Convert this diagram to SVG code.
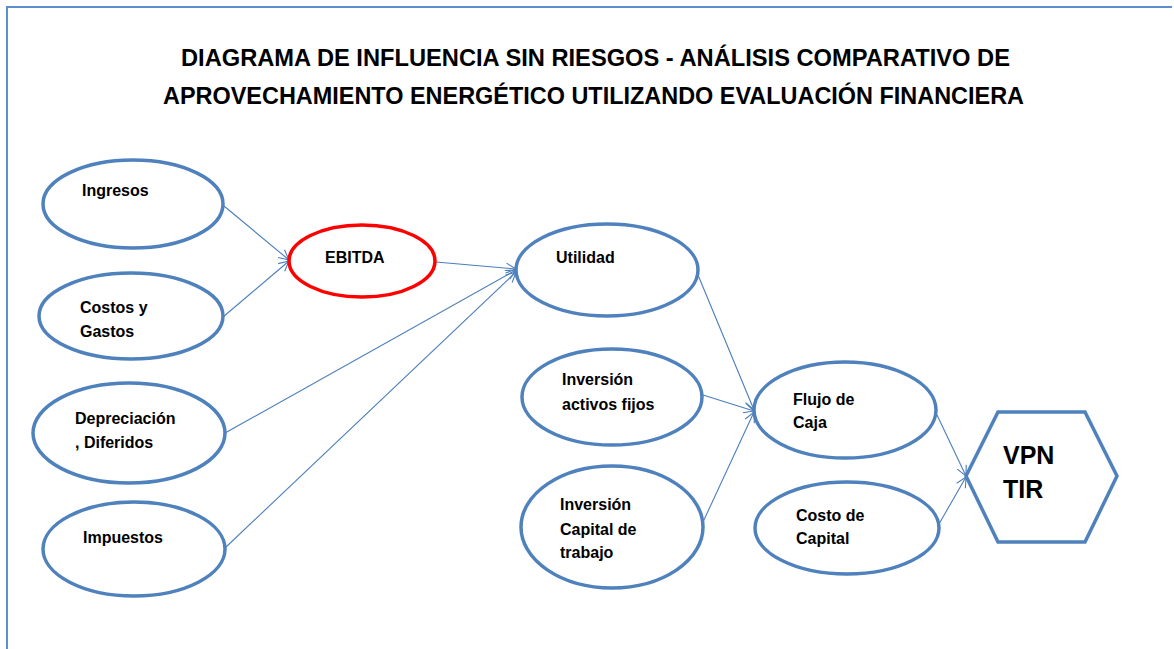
<svg xmlns="http://www.w3.org/2000/svg" width="1174" height="649" viewBox="0 0 1174 649">
<defs>
<style>
.title{font-family:"Liberation Sans",Arial,sans-serif;font-weight:bold;font-size:23px;fill:#000}
.lbl{font-family:"Liberation Sans",Arial,sans-serif;font-weight:bold;font-size:16px;fill:#000}
.big{font-family:"Liberation Sans",Arial,sans-serif;font-weight:bold;font-size:25px;fill:#000}
.node{fill:#fff;stroke:#4F81BD;stroke-width:3.5}
.red{fill:#fff;stroke:#FF0000;stroke-width:3.5}
.conn line{stroke:#4A7EBB;stroke-width:1.1;fill:none;marker-end:url(#arr)}
</style>
<marker id="arr" viewBox="0 0 12 12" refX="11" refY="6" markerWidth="12" markerHeight="12" markerUnits="userSpaceOnUse" orient="auto">
<path d="M1,1 L11,6 L1,11" fill="none" stroke="#4A7EBB" stroke-width="1.1"/>
</marker>
</defs>
<rect width="1174" height="649" fill="#fff"/>
<path d="M7,649 L7,7 L1172,7" fill="none" stroke="#5B8FD0" stroke-width="2"/>
<g id="title">
<text class="title" x="181" y="66" textLength="829" lengthAdjust="spacingAndGlyphs">DIAGRAMA DE INFLUENCIA SIN RIESGOS - ANÁLISIS COMPARATIVO DE</text>
<text class="title" x="163" y="104" textLength="861" lengthAdjust="spacingAndGlyphs">APROVECHAMIENTO ENERGÉTICO UTILIZANDO EVALUACIÓN FINANCIERA</text>
</g>
<g class="conn" id="connectors">
<line x1="224" y1="206" x2="289" y2="260"/>
<line x1="223" y1="317" x2="289" y2="261"/>
<line x1="436" y1="262" x2="516" y2="269"/>
<line x1="225" y1="433" x2="516" y2="270"/>
<line x1="225" y1="548" x2="516" y2="272"/>
<line x1="698" y1="275" x2="754" y2="410"/>
<line x1="703" y1="395" x2="754" y2="411"/>
<line x1="703" y1="522" x2="754" y2="412"/>
<line x1="937" y1="415" x2="966" y2="476"/>
<line x1="939" y1="524" x2="966" y2="477"/>
</g>
<g id="ingresos"><ellipse class="node" cx="133" cy="204" rx="90" ry="44"/><text class="lbl" x="82" y="196">Ingresos</text></g>
<g id="costos"><ellipse class="node" cx="131" cy="316" rx="92" ry="43"/><text class="lbl" x="80" y="313">Costos y</text><text class="lbl" x="80" y="337">Gastos</text></g>
<g id="depreciacion"><ellipse class="node" cx="129" cy="433" rx="96" ry="50"/><text class="lbl" x="75" y="424">Depreciación</text><text class="lbl" x="75" y="448">, Diferidos</text></g>
<g id="impuestos"><ellipse class="node" cx="134" cy="549" rx="91" ry="47"/><text class="lbl" x="83" y="543">Impuestos</text></g>
<g id="ebitda"><ellipse class="red" cx="362" cy="261" rx="73" ry="36"/><text class="lbl" x="325" y="263">EBITDA</text></g>
<g id="utilidad"><ellipse class="node" cx="607" cy="270" rx="91" ry="46"/><text class="lbl" x="556" y="263">Utilidad</text></g>
<g id="inversion-activos"><ellipse class="node" cx="612" cy="397" rx="90" ry="48"/><text class="lbl" x="562" y="385">Inversión</text><text class="lbl" x="562" y="410">activos fijos</text></g>
<g id="inversion-capital"><ellipse class="node" cx="612" cy="527" rx="91" ry="61"/><text class="lbl" x="560" y="510">Inversión</text><text class="lbl" x="560" y="535">Capital de</text><text class="lbl" x="560" y="558">trabajo</text></g>
<g id="flujo"><ellipse class="node" cx="845" cy="410" rx="91" ry="48"/><text class="lbl" x="793" y="405">Flujo de</text><text class="lbl" x="793" y="428">Caja</text></g>
<g id="costo-capital"><ellipse class="node" cx="847" cy="528" rx="92" ry="46"/><text class="lbl" x="796" y="521">Costo de</text><text class="lbl" x="796" y="544">Capital</text></g>
<g id="vpn-tir"><polygon class="node" points="966,476 998,412 1085,412 1117,476 1085,542 998,542"/><text class="big" x="1003" y="464">VPN</text><text class="big" x="1003" y="498">TIR</text></g>
</svg>
